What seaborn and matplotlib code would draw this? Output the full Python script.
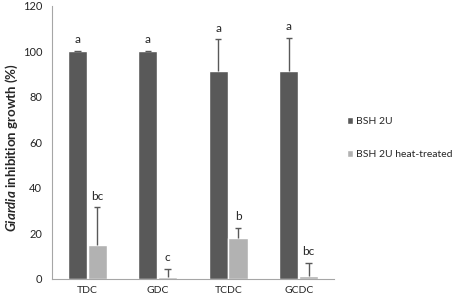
import numpy as np
import pandas as pd
import matplotlib
matplotlib.use("Agg")
import matplotlib.pyplot as plt
import seaborn as sns

# ---------------- data ----------------
categories = ["TDC", "GDC", "TCDC", "GCDC"]
series = ["BSH 2U", "BSH 2U heat-treated"]
bsh_values = [100.0, 100.0, 91.5, 91.5]
bsh_errors = [0.4, 0.4, 13.8, 14.5]
heat_values = [15.0, 0.9, 17.8, 1.2]
heat_errors = [16.5, 3.4, 4.6, 6.0]
bsh_letters = ["a", "a", "a", "a"]
heat_letters = ["bc", "c", "b", "bc"]

DARK = "#595959"
LIGHT = "#b2b2b2"
AXIS = "#a6a6a6"
TEXT = "#262626"

sns.set_style("white")
plt.rcParams["font.family"] = ["Lato", "DejaVu Sans"]
plt.rcParams["mathtext.fontset"] = "custom"
plt.rcParams["mathtext.bfit"] = "Lato:italic:bold"
plt.rcParams["mathtext.rm"] = "Lato"

df = pd.DataFrame({
    "cat": categories * 2,
    "series": [series[0]] * 4 + [series[1]] * 4,
    "value": bsh_values + heat_values,
})
errs = bsh_errors + heat_errors
letters = bsh_letters + heat_letters

fig = plt.figure(figsize=(4.54, 2.99), dpi=100)
ax = fig.add_axes([0.1145, 0.067, 0.621, 0.913])

sns.barplot(data=df, x="cat", y="value", hue="series", order=categories,
            hue_order=series, palette=[DARK, LIGHT], width=0.56, gap=0.03,
            errorbar=None, ax=ax, legend=True)

# upward-only error bars (no lower cap) + significance letters
patches = list(ax.patches)[:8]
cap = 0.045
for p, e, lab in zip(patches, errs, letters):
    xc = p.get_x() + p.get_width() / 2
    h = p.get_height()
    ax.vlines(xc, h, h + e, color=DARK, linewidth=1.0)
    ax.hlines(h + e, xc - cap, xc + cap, color=DARK, linewidth=1.0)
    ax.text(xc, h + e + 2.5, lab, ha="center", va="bottom",
            fontsize=8.5, color=TEXT)

ax.set_ylim(0, 120)
ax.set_xlim(-0.5, 3.5)
ax.set_yticks(range(0, 121, 20))
ax.set_xticks(np.arange(-0.5, 4.0, 1.0), minor=False)
ax.set_xticklabels([])
ax.set_xticks(range(4), minor=True)
ax.set_xticklabels(categories, minor=True)
ax.tick_params(axis="x", which="major", length=4, color=AXIS, width=0.8, direction="out")
ax.tick_params(axis="x", which="minor", length=0, labelsize=7.5, labelcolor=TEXT, pad=5)
ax.tick_params(axis="y", length=4, color=AXIS, width=0.8, direction="out",
               labelsize=8, labelcolor=TEXT, pad=3)
ax.set_xlabel("")
ax.set_ylabel(r"$\mathbfit{Giardia}$ inhibition growth (%)", fontsize=9.5,
              fontweight="bold", color=TEXT)
ax.yaxis.set_label_coords(-0.115, 0.48)

for s in ["top", "right"]:
    ax.spines[s].set_visible(False)
for s in ["left", "bottom"]:
    ax.spines[s].set_color(AXIS)
    ax.spines[s].set_linewidth(0.8)

handles, labels = ax.get_legend_handles_labels()
ax.legend(handles, labels, loc="upper left", bbox_to_anchor=(0.764, 0.608),
          bbox_transform=fig.transFigure, frameon=False, fontsize=7.5,
          handlelength=0.6, handleheight=0.6, handletextpad=0.3,
          labelspacing=2.3, labelcolor=TEXT, borderpad=0, borderaxespad=0)

fig.savefig("out.png", dpi=100)
